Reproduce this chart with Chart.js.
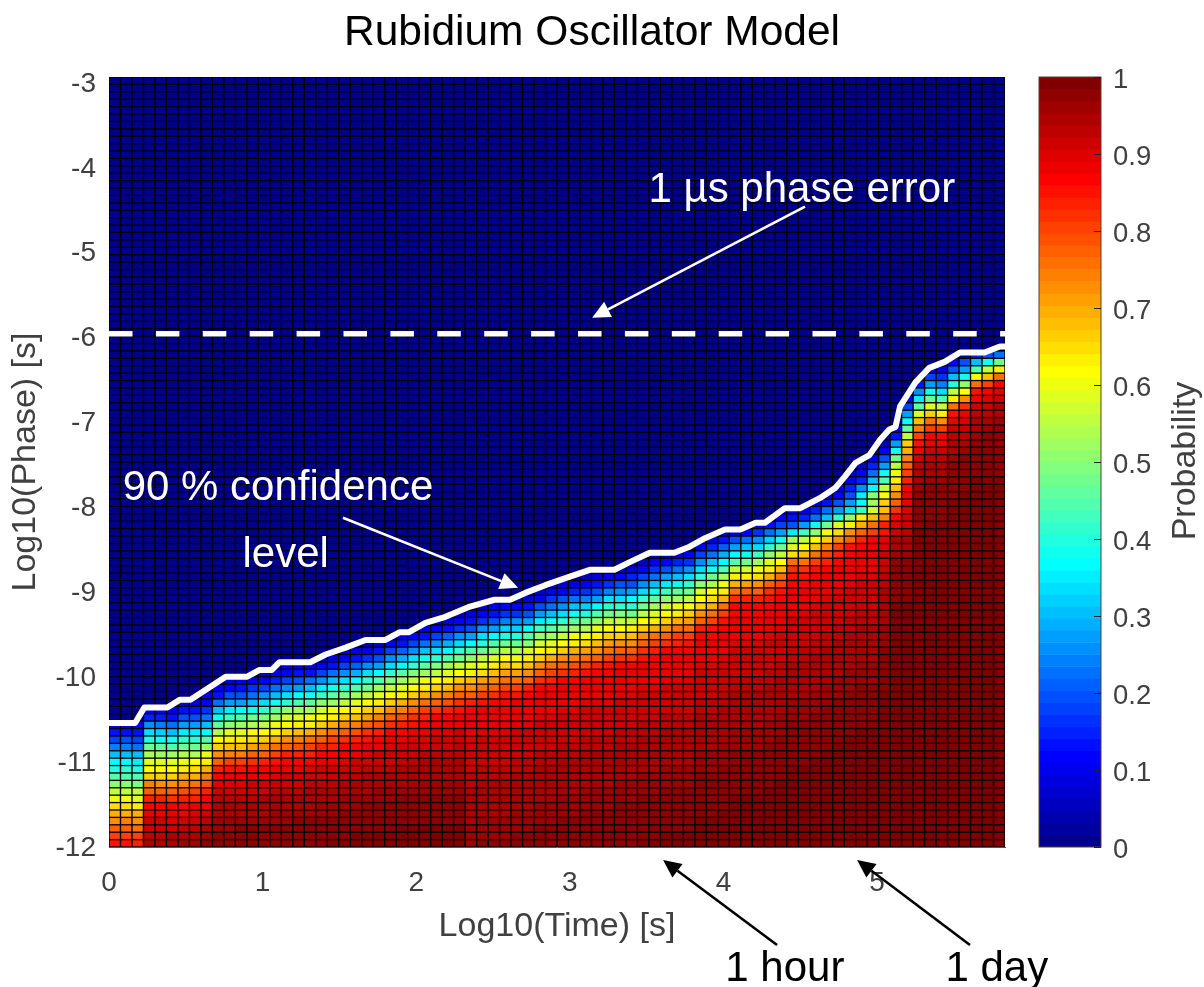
<!DOCTYPE html>
<html><head><meta charset="utf-8"><title>Rubidium Oscillator Model</title>
<style>html,body{margin:0;padding:0;background:#fff}canvas{position:absolute;top:0}</style>
<script src="https://cdn.jsdelivr.net/npm/chart.js@4/dist/chart.umd.min.js"></script>
</head><body>
<canvas id="main" width="1184" height="987" style="left:0"></canvas>
<canvas id="bar" width="204" height="987" style="left:1000px"></canvas>
<script>
const titleText='Rubidium Oscillator Model';
const xTitle='Log10(Time) [s]';
const yTitle='Log10(Phase) [s]';
const barTitle='Probability';
const timeMax=5.833, phaseMin=-12, phaseMax=-3;
const columnCount=78, rowCount=104;
// first (highest) visible row of each column, counted from the bottom
const colTop=[16,16,16,18,18,18,19,19,20,22,22,22,23,23,24,24,24,24,25,25,26,26,27,27,28,28,29,29,30,30,31,31,32,32,32,33,33,34,35,35,35,36,36,36,37,37,38,39,39,39,39,41,41,42,42,42,43,44,45,45,45,46,47,48,50,51,52,54,56,60,62,64,64,65,65,66,66,66];
// probability in percent, read per column from the top row downward
const colValues=[
[10,14,18,24,30,36,40,45,50,55,60,65,70,73,77,80,85],
[10,14,19,24,31,36,41,45,50,56,60,65,70,74,77,81,85],
[10,13,18,23,30,35,40,45,49,55,59,64,69,73,76,80,84],
[10,15,25,33,40,47,54,59,62,67,74,78,83,87,89,91,92,93,95],
[10,15,24,32,39,46,53,58,61,66,73,78,83,87,89,91,92,93,95],
[8,14,23,31,38,45,52,58,61,66,72,77,82,86,88,90,92,94,95],
[9,13,20,27,35,41,47,54,60,64,69,74,79,83,87,89,91,93,95,96],
[9,13,20,27,35,41,48,54,61,65,70,75,80,84,88,90,92,93,95,96],
[8,12,17,23,30,37,45,53,60,64,69,74,79,84,87,89,91,93,94,96,97],
[6,10,14,22,30,38,46,54,62,66,72,78,83,87,90,92,93,94,95,96,96,97,97],
[8,12,19,27,35,43,51,58,63,68,74,80,85,88,90,92,93,94,95,96,96,97,98],
[8,13,20,28,36,44,52,59,63,68,74,80,85,88,90,92,93,94,95,96,97,97,98],
[6,10,16,23,31,39,47,54,61,65,71,77,82,86,89,91,92,93,94,95,96,97,97,98],
[7,11,18,25,33,41,49,56,62,66,72,78,83,87,89,91,92,94,95,95,96,97,97,98],
[6,10,15,22,30,38,46,53,60,64,70,76,81,85,88,90,92,93,94,95,96,96,97,97,98],
[8,12,18,26,34,42,50,57,62,67,73,78,83,86,89,91,92,93,94,95,96,96,97,98,98],
[8,13,20,28,36,44,52,59,63,68,74,79,84,87,89,91,92,93,94,95,96,97,97,98,98],
[9,14,22,30,38,46,53,60,64,69,75,80,84,87,90,91,93,94,95,95,96,97,97,98,98],
[6,11,18,26,35,43,50,57,62,67,73,78,83,86,89,91,92,93,94,95,96,96,97,97,98,98,99],
[8,14,22,30,38,46,53,60,64,69,75,80,84,87,89,91,92,93,94,95,96,96,97,98,98,99],
[6,11,18,26,34,42,49,56,61,66,72,77,82,86,88,90,92,93,94,95,96,96,97,97,98,98,99],
[8,13,21,29,37,45,52,59,63,68,74,79,84,87,89,91,92,93,94,95,96,96,97,98,98,99],
[6,10,17,25,33,41,48,55,61,66,71,77,82,85,88,90,91,93,94,95,95,96,97,97,98,98,99],
[8,13,20,28,37,44,52,59,63,68,74,79,83,87,89,91,92,93,94,95,96,96,97,97,98,98,99],
[6,11,18,25,34,42,49,56,62,67,72,77,82,86,88,90,91,92,93,94,95,96,96,97,97,98,98,99],
[8,13,21,29,37,45,52,59,64,69,74,79,84,87,89,91,92,93,94,95,95,96,97,97,98,98,99],
[6,11,18,26,34,42,49,56,61,66,72,77,82,85,88,90,91,92,93,94,95,95,96,97,97,98,98,99],
[9,14,22,30,38,46,53,60,64,69,75,80,84,87,89,90,92,93,94,95,95,96,96,97,97,98,98,99],
[6,11,18,26,34,41,49,56,62,67,72,78,82,86,88,90,91,92,93,94,95,95,96,96,97,97,98,98,99],
[8,14,21,29,37,45,52,59,64,68,74,79,83,87,89,90,91,92,93,94,95,95,96,96,97,97,98,98,99],
[6,11,17,25,33,41,48,55,61,66,72,77,82,85,88,89,91,92,93,93,94,95,95,96,96,97,97,98,98,99],
[8,13,20,28,36,44,51,58,63,68,73,78,83,86],
[6,11,17,25,33,40,48,55,60,65,71,76,81,85],
[8,13,20,28,36,44,51,58,63,68,73,78,82,86],
[10,16,24,32,40,48,55,62,66,71,76,81,85,87],
[6,11,17,25,32,40,47,54,60,65,71,76,81,85],
[8,13,20,28,36,44,51,58,63,68,73,78,83,86],
[7,12,19,27,35,43,50,57,62,67,72,77,82,86],
[5,10,16,23,31,39,46,53,59,64,70,75,80,84,87],
[7,12,19,26,34,42,49,56,62,67,72,77,82,86],
[9,15,22,30,38,46,53,60,64,69,74,79,84,87],
[6,11,17,24,32,40,47,54,60,65,71,76,81,85],
[8,13,20,28,36,44,51,58,63,68,73,78,83,86],
[10,16,24,33,41,48,55,62,66,71,76,81,85,87],
[7,12,19,26,34,42,49,56,62,67,72,77,82,86],
[9,15,20,27,37,42,48,56,63,68,73,78,82,86],
[6,12,18,25,33,41,48,55,61,66,72,77,82,85],
[5,10,16,23,31,39,46,53,59,64,70,75,80,84,87],
[7,12,19,27,35,43,50,57,62,67,72,77,82,86],
[9,15,22,30,38,46,53,60,64,69,75,80,84,87],
[11,17,25,33,41,48,55,62,66,71,76,81,85,87],
[6,12,18,26,34,42,50,57,62,67,73,78,83,86],
[9,15,23,31,39,47,54,61,65,70,76,81,85,87],
[7,14,21,29,37,45,53,60,64,70,76,81,85,87],
[9,20,27,37,45,55,63,70,76,82,86,87],
[11,22,30,39,47,57,64,71,77,83,86,87],
[8,16,25,34,43,52,60,65,72,78,83,86,87],
[6,13,22,32,41,50,58,63,70,77,82,85,87],
[6,11,18,28,38,47,55,62,68,75,81,85,87],
[8,13,20,35,52,58,65,75,82,85,87],
[10,15,27,43,55,62,68,76,82,85,87],
[10,15,23,38,50,62,68,75,81,85,87],
[9,14,22,30,48,60,66,74,80,84,87],
[8,12,20,28,42,58,65,72,80,84,87],
[5,10,15,20,28,33,50,63,72,78,85,87],
[6,12,15,25,35,37,43,64,70,78,84,87],
[10,15,22,30,37,50,52,57,68,75,80,86,88],
[5,12,20,28,38,45,55,62,66,68,74,83,85,88,90,92],
[8,13,27,38,48,55,60,64,68,72,78,82,87,90,92,94,95,96,97,97,98],
[12,18,28,37,46,56,66,70,74,78,80,83,86,88,89,90,91,92,93,94,95,96,97,97,98],
[13,25,35,46,58,68,74,80,85,89,91,93,94,95,96,97,98],
[12,18,28,38,48,58,66,75,80,86,89,91,93,94,95,96,97,98],
[10,16,24,33,44,55,63,72,80,86,89,91,93,94,95,96,97,98],
[12,20,30,40,55,63,75,85,89,91,93,94,95,96,97,98],
[20,28,38,50,62,72,82,88,90,92,93,95,96,97,98],
[15,30,45,62,75,85,89,91,93,94,95,96,97,98],
[20,38,55,68,80,87,90,92,93,95,96,97],
[22,48,63,76,87,90,92,94,95,96,97]
];
// how the probability keeps rising towards saturation below each column's list
const saturationTail=[88,89,89,90,91,91,92,92,93,93,94,94,95,95,95,96,96,96,97,97,97,98,98,98,99,99];
// 90 % confidence contour
const contourTime=[0,.17,.23,.38,.46,.53,.76,.90,.98,1.06,1.11,1.31,1.41,1.54,1.67,1.80,1.89,1.95,2.06,2.19,2.35,2.51,2.61,2.71,2.84,3.00,3.13,3.29,3.39,3.52,3.68,3.78,3.88,4.01,4.11,4.21,4.27,4.40,4.50,4.63,4.73,4.79,4.86,4.95,5.02,5.08,5.12,5.15,5.25,5.34,5.44,5.54,5.70,5.80,5.833];
const contourPhase=[-10.55,-10.55,-10.37,-10.37,-10.28,-10.28,-10.01,-10.01,-9.93,-9.93,-9.84,-9.84,-9.75,-9.67,-9.58,-9.58,-9.49,-9.49,-9.38,-9.31,-9.19,-9.11,-9.11,-9.03,-8.94,-8.84,-8.76,-8.76,-8.67,-8.56,-8.56,-8.49,-8.39,-8.29,-8.29,-8.21,-8.21,-8.04,-8.04,-7.92,-7.80,-7.67,-7.51,-7.42,-7.24,-7.12,-7.09,-6.85,-6.57,-6.40,-6.33,-6.22,-6.22,-6.15,-6.15];
const errorTime=[0,5.833];
const errorPhase=[-6,-6];
const notes=[
 {text:'1 µs phase error',t:4.51,p:-4.325,color:'#fff'},
 {text:'90 % confidence',t:1.10,p:-7.805,color:'#fff'},
 {text:'level',t:1.15,p:-8.595,color:'#fff'},
 {text:'1 hour',t:4.40,p:-13.43,color:'#000'},
 {text:'1 day',t:5.78,p:-13.43,color:'#000'}];
const arrows=[
 {t0:4.531,p0:-4.515,t1:3.145,p1:-5.813,color:'#fff'},
 {t0:1.523,p0:-8.152,t1:2.663,p1:-8.971,color:'#fff'},
 {t0:4.349,p0:-13.146,t1:3.607,p1:-12.152,color:'#000'},
 {t0:5.605,p0:-13.146,t1:4.87,p1:-12.152,color:'#000'}];
const barTicks=[0,.1,.2,.3,.4,.5,.6,.7,.8,.9,1];
const barLevels=64;

const FF='"Liberation Sans",Arial,Helvetica,sans-serif';
const TICK='#404040';
function jet(p){
  const v=(Math.min(barLevels-1,Math.floor(p*barLevels))+1)/barLevels;
  const c=x=>Math.round(255*Math.max(0,Math.min(1,x)));
  return `rgb(${c(Math.min(4*v-1.5,-4*v+4.5))},${c(Math.min(4*v-.5,-4*v+3.5))},${c(Math.min(4*v+.5,-4*v+2.5))})`;
}
const dx=timeMax/columnCount, dy=(phaseMax-phaseMin)/rowCount;
const cells=[];
colValues.forEach((vals,c)=>{
  let k=saturationTail.findIndex(v=>v>=vals[vals.length-1]);
  if(k<0)k=saturationTail.length;
  for(let r=0;r<rowCount;r++){
    const i=colTop[c]-r;
    let pr=0;
    if(i>=0){
      if(i<vals.length)pr=vals[i];
      else{const t=saturationTail[k+i-vals.length];pr=t===undefined?100:t;}
    }
    cells.push({x:(c+.5)*dx,y:[phaseMin+(r+.09)*dy,phaseMin+(r+.91)*dy],v:pr/100});
  }
});
const zip=(a,b)=>a.map((x,i)=>({x,y:b[i]}));

const gridBack={id:'gridBack',beforeDatasetsDraw(ch){
  const {ctx,chartArea:a}=ch;
  ctx.save();ctx.fillStyle='#000';ctx.fillRect(a.left,a.top,a.right-a.left,a.bottom-a.top);ctx.restore();
}};
const notesPlugin={id:'notes',afterDraw(ch){
  const {ctx,scales:{x,y}}=ch;
  ctx.save();
  arrows.forEach(a=>{
    const x0=x.getPixelForValue(a.t0),y0=y.getPixelForValue(a.p0),x1=x.getPixelForValue(a.t1),y1=y.getPixelForValue(a.p1);
    const ang=Math.atan2(y1-y0,x1-x0),L=18,W=8.5;
    const bx=x1-L*Math.cos(ang),by=y1-L*Math.sin(ang);
    ctx.strokeStyle=ctx.fillStyle=a.color;ctx.lineWidth=2.6;
    ctx.beginPath();ctx.moveTo(x0,y0);ctx.lineTo(bx,by);ctx.stroke();
    ctx.beginPath();ctx.moveTo(x1,y1);
    ctx.lineTo(bx-W*Math.sin(ang),by+W*Math.cos(ang));
    ctx.lineTo(bx+W*Math.sin(ang),by-W*Math.cos(ang));ctx.closePath();ctx.fill();
  });
  ctx.font='42px '+FF;ctx.textAlign='center';ctx.textBaseline='middle';
  notes.forEach(n=>{ctx.fillStyle=n.color;ctx.fillText(n.text,x.getPixelForValue(n.t),y.getPixelForValue(n.p));});
  ctx.restore();
}};

new Chart(document.getElementById('main'),{
  type:'bar',
  data:{datasets:[
    {type:'line',data:zip(errorTime,errorPhase),borderColor:'#fff',borderWidth:5.5,borderDash:[23.5,23.4],pointRadius:0,order:1},
    {type:'line',data:zip(contourTime,contourPhase),borderColor:'#fff',borderWidth:6,pointRadius:0,tension:0,borderJoinStyle:'round',order:2},
    {type:'bar',data:cells,backgroundColor:cells.map(c=>jet(c.v)),borderWidth:0,inflateAmount:0,barPercentage:.88,categoryPercentage:1,order:3}
  ]},
  options:{responsive:false,animation:false,events:[],
    layout:{padding:{left:0,right:0,top:0,bottom:40}},
    plugins:{legend:{display:false},tooltip:{enabled:false},
      title:{display:true,text:titleText,color:'#000',font:{family:FF,size:42.5,weight:'normal'},padding:{top:8,bottom:18}}},
    scales:{
      x:{type:'linear',offset:false,min:0,max:timeMax,
        grid:{display:false,offset:false},border:{color:'#555',width:1},
        ticks:{stepSize:1,includeBounds:false,color:TICK,font:{family:FF,size:28},padding:11,maxRotation:0},
        title:{display:true,text:xTitle,color:TICK,font:{family:FF,size:34},padding:0},
        afterFit:s=>{s.height=100}},
      y:{type:'linear',display:false,min:phaseMin,max:phaseMax},
      yTicks:{type:'linear',position:'left',min:-12,max:-2.93,
        grid:{display:false},border:{color:'#555',width:1},
        ticks:{stepSize:1,includeBounds:false,color:TICK,font:{family:FF,size:28},padding:5,labelOffset:1},
        title:{display:true,text:yTitle,color:TICK,font:{family:FF,size:34},padding:{top:5,bottom:0}},
        afterFit:s=>{s.width=109}},
      side:{type:'linear',position:'right',display:true,ticks:{display:false},grid:{display:false},border:{display:false},
        afterFit:s=>{s.width=179}}
    }
  },
  plugins:[gridBack,notesPlugin]
});

const levels=[];
for(let i=0;i<barLevels;i++)levels.push({x:.5,y:[i/barLevels,(i+1)/barLevels],v:(i+.5)/barLevels});
const barDecor={id:'barDecor',afterDraw(ch){
  const {ctx,chartArea:a,scales:{y}}=ch;
  ctx.save();
  ctx.strokeStyle='#5a4030';ctx.lineWidth=1;ctx.strokeRect(a.left,a.top,a.right-a.left,a.bottom-a.top);
  ctx.strokeStyle='#222';
  barTicks.forEach(t=>{const py=Math.round(y.getPixelForValue(t))+.5;ctx.beginPath();ctx.moveTo(a.right-7,py);ctx.lineTo(a.right,py);ctx.stroke();});
  ctx.fillStyle=TICK;ctx.font='34px '+FF;ctx.textAlign='center';ctx.textBaseline='middle';
  ctx.translate(186,461);ctx.rotate(-Math.PI/2);ctx.fillText(barTitle,0,0);
  ctx.restore();
}};
new Chart(document.getElementById('bar'),{
  type:'bar',
  data:{datasets:[{data:levels,backgroundColor:levels.map(l=>jet(l.v)),borderWidth:0,barPercentage:1,categoryPercentage:1}]},
  options:{responsive:false,animation:false,events:[],
    layout:{padding:{left:39,right:0,top:77,bottom:140}},
    plugins:{legend:{display:false},tooltip:{enabled:false}},
    scales:{
      x:{type:'linear',display:false,offset:false,min:0,max:1,grid:{offset:false}},
      y:{type:'linear',position:'right',min:0,max:1,grid:{display:false},border:{display:false},
        ticks:{stepSize:.1,color:TICK,font:{family:FF,size:27.5},padding:4,labelOffset:3,callback:v=>String(Math.round(v*10)/10)},
        afterFit:s=>{s.width=103}}
    }
  },
  plugins:[barDecor]
});
</script>
</body></html>
